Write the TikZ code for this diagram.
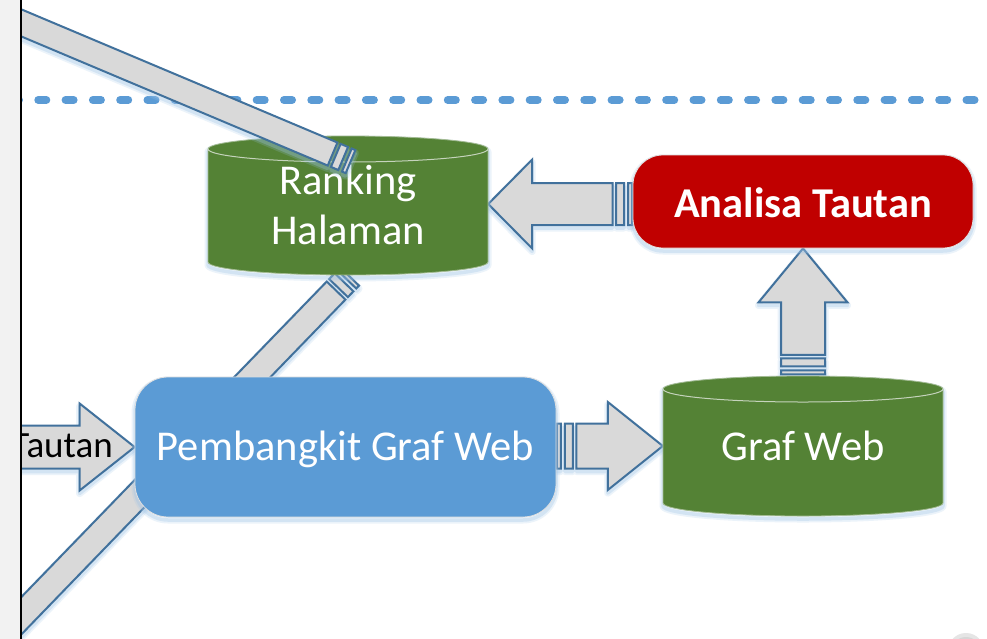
\documentclass[tikz,border=0pt]{standalone}
\usepackage{fontspec}
\setmainfont{Carlito}
\usetikzlibrary{calc}

\definecolor{boxblue}{HTML}{5B9BD5}
\definecolor{taskred}{HTML}{C00000}
\definecolor{storegreen}{HTML}{548235}
\definecolor{arrowgray}{HTML}{D9D9D9}
\definecolor{arrowedge}{HTML}{41719C}
\definecolor{glowblue}{HTML}{9DC3E6}
\definecolor{panelgray}{HTML}{F2F2F2}
\definecolor{rimgreen}{HTML}{C5D3BC}

\pgfdeclarelayer{back}
\pgfdeclarelayer{arrows}
\pgfdeclarelayer{front}
\pgfsetlayers{back,arrows,main,front}

\tikzset{
  glowwide/.style={draw=glowblue, line width=7pt, draw opacity=0.2, line join=round},
  glownarrow/.style={draw=glowblue, line width=3.5pt, draw opacity=0.3, line join=round},
  blockfill/.style={fill=arrowgray, draw=arrowedge, line width=2pt, line join=miter},
  cylbody/.style={fill=storegreen, draw=rimgreen!70!storegreen, line width=0.8pt},
  cyltop/.style={draw=rimgreen, line width=1pt},
  bigfont/.style={font=\fontsize{42.5pt}{50pt}\selectfont},
  storelabel/.style={bigfont, text=white, align=center, inner sep=0pt, minimum width=280pt},
  processbox/.style={rectangle, rounded corners=33pt, fill=boxblue, draw=black!12,
    line width=0.8pt, text=white, bigfont, inner sep=0pt},
  taskbox/.style={rectangle, rounded corners=30pt, fill=taskred, draw=black!12,
    line width=0.8pt, text=white, font=\bfseries\fontsize{42.5pt}{50pt}\selectfont, inner sep=0pt},
  divider/.style={draw=boxblue, line width=8pt, line cap=round, dash pattern=on 8pt off 19.3pt},
}

% Striped block arrow from #1 (tail) to #2 (tip):
% #3 head length, #4 half width of the shaft, #5 half width of the head.
\newcommand\stripedarrow[5]{%
  \path let \p1=#1, \p2=#2 in \pgfextra{%
    \pgfmathsetmacro\sarang{atan2((\y2)-(\y1),(\x2)-(\x1))}%
    \pgfmathsetmacro\sarlen{veclen((\x2)-(\x1),(\y2)-(\y1))}%
    \xdef\sarangG{\sarang}\xdef\sarlenG{\sarlen}};
  \begin{scope}[shift={#1}, rotate=\sarangG]
    \begin{scope}[shift={({-3*sin(\sarangG)},{3*cos(\sarangG)})}]
      \foreach \sty in {glowwide,glownarrow}{%
        \path[\sty] (0.5,-#4) rectangle (4.5,#4) (8.5,-#4) rectangle (16.5,#4)
          (20,-#4) -- ({\sarlenG-#3},-#4) -- ({\sarlenG-#3},-#5) -- (\sarlenG,0)
          -- ({\sarlenG-#3},#5) -- ({\sarlenG-#3},#4) -- (20,#4) -- cycle;}
    \end{scope}
    \path[blockfill] (0.5,-#4) rectangle (4.5,#4) (8.5,-#4) rectangle (16.5,#4)
      (20,-#4) -- ({\sarlenG-#3},-#4) -- ({\sarlenG-#3},-#5) -- (\sarlenG,0)
      -- ({\sarlenG-#3},#5) -- ({\sarlenG-#3},#4) -- (20,#4) -- cycle;
  \end{scope}}

% Data store cylinder: #1 left, #2 right, #3 top ellipse centre, #4 bottom ellipse centre, #5 ellipse half height
\newcommand\datastore[5]{%
  \pgfmathsetmacro\dsmid{(#1+#2)/2}%
  \pgfmathsetmacro\dskx{0.5523*(#2-#1)/2}%
  \pgfmathsetmacro\dsky{0.5523*#5}%
  \foreach \sty in {glowwide,glownarrow}{%
    \path[\sty, shift={(0,3)}] (#1,#3) -- (#1,#4)
      .. controls (#1,#4+\dsky) and (\dsmid-\dskx,#4+#5) .. (\dsmid,#4+#5)
      .. controls (\dsmid+\dskx,#4+#5) and (#2,#4+\dsky) .. (#2,#4)
      -- (#2,#3)
      .. controls (#2,#3-\dsky) and (\dsmid+\dskx,#3-#5) .. (\dsmid,#3-#5)
      .. controls (\dsmid-\dskx,#3-#5) and (#1,#3-\dsky) .. (#1,#3) -- cycle;}
  \path[cylbody] (#1,#3) -- (#1,#4)
      .. controls (#1,#4+\dsky) and (\dsmid-\dskx,#4+#5) .. (\dsmid,#4+#5)
      .. controls (\dsmid+\dskx,#4+#5) and (#2,#4+\dsky) .. (#2,#4)
      -- (#2,#3)
      .. controls (#2,#3-\dsky) and (\dsmid+\dskx,#3-#5) .. (\dsmid,#3-#5)
      .. controls (\dsmid-\dskx,#3-#5) and (#1,#3-\dsky) .. (#1,#3) -- cycle;
  \path[cyltop] (#1,#3)
      .. controls (#1,#3+\dsky) and (\dsmid-\dskx,#3+#5) .. (\dsmid,#3+#5)
      .. controls (\dsmid+\dskx,#3+#5) and (#2,#3+\dsky) .. (#2,#3);}

\begin{document}
\begin{tikzpicture}[x=1pt, y=-1pt]
  \useasboundingbox (0,0) rectangle (987,638);

  \begin{pgfonlayer}{back}
    \fill[white] (0,0) rectangle (987,638);
    \draw[divider] (11,100) -- (1000,100);
  \end{pgfonlayer}

  % soft glow under the two boxes
  \foreach \sty in {glowwide,glownarrow}{%
    \path[\sty, shift={(0,3)}, rounded corners=33pt] (135,377) rectangle (556,517);
    \path[\sty, shift={(0,3)}, rounded corners=30pt] (633,155) rectangle (973,248);}

  % data stores
  \datastore{208}{488}{149}{262}{13}
  \datastore{663}{943}{389}{503}{13}

  \node[storelabel, minimum height=140pt] (rank) at (348,205) {Ranking\\Halaman};
  \node[storelabel, minimum height=141pt, text height=29pt, text depth=0pt] (graf) at (803,445.5) {Graf Web};
  \node[processbox, minimum width=421pt, minimum height=140pt, text height=27pt, text depth=0pt]
    (pgw) at (345.5,447) {Pembangkit Graf Web};
  \node[taskbox, minimum width=340pt, minimum height=93pt, text height=31pt, text depth=0pt]
    (analisa) at (803,201.5) {Analisa Tautan};

  \coordinate (tautanin) at (-60,447);
  \coordinate (bandtl) at (-90,-24);
  \coordinate (bandbl) at (-67,707);

  \begin{pgfonlayer}{arrows}
    \stripedarrow{($(rank.south)+(2,1)$)}{(bandbl)}{50}{13}{30}
    \stripedarrow{(tautanin)}{(pgw.west)}{55}{21.5}{43.5}
    \stripedarrow{($(pgw.east)+(0,-1)$)}{($(graf.west)+(0,0.5)$)}{55}{22.5}{44}
    \stripedarrow{(graf.north)}{(analisa.south)}{54}{22}{44.5}
    \stripedarrow{($(analisa.west)+(0,2.5)$)}{($(rank.east)+(0,-1)$)}{44}{21}{44.5}
    \node[font=\fontsize{37pt}{44pt}\selectfont, inner sep=0pt, anchor=base east]
      (tautan) at (113,457) {Tautan};
  \end{pgfonlayer}

  \begin{pgfonlayer}{front}
    \stripedarrow{($(rank.north)+(3,27)$)}{(bandtl)}{50}{12.5}{30}
    \fill[panelgray] (-1,-1) rectangle (20,639);
    \draw[black, line width=2pt] (21,-1) -- (21,639);
    \fill[black!10] (966,651) circle (18pt);
    \fill[black!16] (966,652) circle (15pt);
  \end{pgfonlayer}
\end{tikzpicture}
\end{document}
